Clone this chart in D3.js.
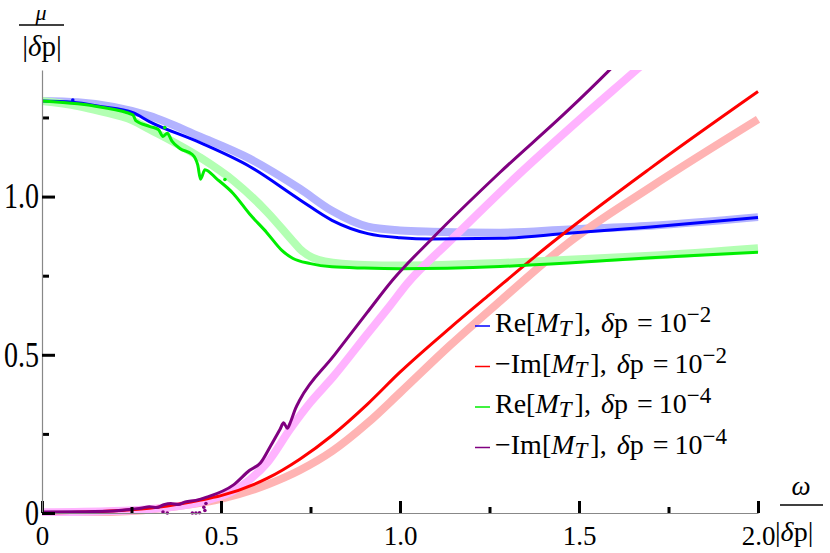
<!DOCTYPE html>
<html>
<head>
<meta charset="utf-8">
<script src="https://cdn.jsdelivr.net/npm/d3@7"></script>
<style>
body { margin: 0; background: #fff; }
svg text { font-family: 'Liberation Serif', 'Times New Roman', Times, 'DejaVu Serif', serif; }
</style>
</head>
<body>
<div id="theGraph"></div>
<script>
// axis ticks
const xMajorTicks = [0, 0.5, 1.0, 1.5, 2.0];
const xTickLabels = ["0", "0.5", "1.0", "1.5", "2.0"];
const xMinorTicks = [0.25, 0.75, 1.25, 1.75];
const yMajorTicks = [0, 0.5, 1.0];
const yTickLabels = ["0", "0.5", "1.0"];
const yMinorTicks = [0.25, 0.75, 1.25];

// thick light curves (reference), [omega, value]
const reFitA = [[0,1.302],[0.1,1.298],[0.2,1.283],[0.3,1.255],[0.44,1.19],[0.58,1.12],[0.72,1.025],[0.81,0.955],[0.91,0.905],[1.0,0.893],[1.09,0.889],[1.28,0.886],[1.47,0.896],[1.7,0.908],[2.0,0.935]];
const imFitA = [[0,0],[0.1,0.001],[0.25,0.006],[0.4,0.025],[0.5,0.045],[0.63,0.09],[0.72,0.135],[0.81,0.195],[0.91,0.285],[1.0,0.38],[1.14,0.53],[1.284,0.674],[1.466,0.85],[1.7,1.03],[2.0,1.244]];
const reFitB = [[0,1.302],[0.1,1.286],[0.162,1.27],[0.254,1.24],[0.3,1.213],[0.44,1.125],[0.535,1.05],[0.63,0.95],[0.7,0.86],[0.72,0.835],[0.79,0.795],[0.9,0.784],[1.0,0.782],[1.28,0.79],[1.47,0.8],[1.7,0.813],[2.0,0.837]];
const imFitB = [[0,0.002],[0.2,0.006],[0.3,0.012],[0.4,0.025],[0.46,0.04],[0.535,0.07],[0.58,0.105],[0.63,0.16],[0.693,0.265],[0.75,0.35],[0.813,0.43],[0.908,0.565],[0.972,0.655],[1.02,0.725],[1.14,0.86],[1.327,1.065],[1.511,1.253],[1.662,1.402],[1.7,1.44]];

// thin numerical curves
const reDpA = [[0,1.302],[0.086,1.298],[0.162,1.285],[0.254,1.265],[0.3,1.237],[0.44,1.171],[0.58,1.095],[0.72,0.99],[0.81,0.925],[0.91,0.883],[1.0,0.87],[1.09,0.866],[1.28,0.868],[1.47,0.884],[1.7,0.904],[2.0,0.934]];
const imDpA = [[0,0],[0.1,0.002],[0.25,0.01],[0.35,0.022],[0.44,0.04],[0.5,0.055],[0.63,0.11],[0.72,0.17],[0.81,0.245],[0.91,0.345],[1.0,0.445],[1.14,0.585],[1.25,0.69],[1.42,0.85],[1.7,1.09],[2.0,1.332]];
const reDpB = [[0,1.302],[0.1,1.293],[0.162,1.283],[0.254,1.258],[0.262,1.24],[0.3,1.222],[0.325,1.212],[0.338,1.19],[0.35,1.2],[0.363,1.175],[0.385,1.152],[0.42,1.133],[0.435,1.1],[0.443,1.055],[0.455,1.085],[0.488,1.056],[0.534,1.01],[0.58,0.945],[0.628,0.886],[0.67,0.83],[0.7,0.805],[0.75,0.788],[0.81,0.778],[0.9,0.774],[1.0,0.772],[1.28,0.779],[1.47,0.79],[1.7,0.807],[2.0,0.824]];
const imDpB = [[0,0.003],[0.1,0.004],[0.2,0.006],[0.25,0.012],[0.28,0.016],[0.3,0.02],[0.32,0.017],[0.34,0.026],[0.36,0.03],[0.38,0.027],[0.4,0.035],[0.43,0.04],[0.46,0.05],[0.535,0.089],[0.58,0.135],[0.61,0.158],[0.64,0.215],[0.665,0.265],[0.675,0.285],[0.685,0.268],[0.695,0.29],[0.708,0.33],[0.72,0.357],[0.813,0.494],[0.908,0.633],[0.98,0.737],[1.092,0.87],[1.279,1.076],[1.466,1.269],[1.587,1.402],[1.62,1.44]];

// stray points off the thin curves
const reDotsA = [[0.086,1.305]];
const reDotsB = [[0.343,1.218],[0.511,1.054]];
const imDotsB = [[0.338,0.003],[0.35,0],[0.42,0],[0.43,0],[0.44,0.001],[0.452,0.018],[0.455,0.008],[0.458,0.03]];

// legend
const legendPrefix = ["Re", "\u2212Im", "Re", "\u2212Im"];
const legendExp = ["\u22122", "\u22122", "\u22124", "\u22124"];
const legendColors = ["#0000ff", "#ff0000", "#00ee00", "#800080"];

const width = 830, height = 553;
const serif = "'Liberation Serif', 'Times New Roman', Times, 'DejaVu Serif', serif";

const svg = d3.select("#theGraph")
            .append("svg")
                .attr("width", width)
                .attr("height", height)
                .attr("font-family", serif);

const xScale = d3.scaleLinear().domain([0, 2]).range([42, 758]);
const yScale = d3.scaleLinear().domain([0, 1.4]).range([513, 70]);

svg.append("clipPath")
    .attr("id", "plotClip")
    .append("rect")
        .attr("x", 42)
        .attr("y", 70)
        .attr("width", 718)
        .attr("height", 446);

const line = d3.line()
    .x(d => xScale(d[0]))
    .y(d => yScale(d[1]))
    .curve(d3.curveMonotoneX);

const plot = svg.append("g").attr("clip-path", "url(#plotClip)");

// light thick curves first
const thick = [
    {data: reFitA, color: "#b3b3ff"},
    {data: imFitA, color: "#ffb3b3"},
    {data: reFitB, color: "#b3ffb3"},
    {data: imFitB, color: "#ffb3ff"}
];
thick.forEach(s => {
    plot.append("path")
        .attr("d", line(s.data))
        .attr("fill", "none")
        .attr("stroke", s.color)
        .attr("stroke-width", 8);
});

const thin = [
    {data: reDpA, dots: reDotsA, color: "#0000ff"},
    {data: imDpA, dots: [], color: "#ff0000"},
    {data: reDpB, dots: reDotsB, color: "#00ee00"},
    {data: imDpB, dots: imDotsB, color: "#800080"}
];
thin.forEach(s => {
    plot.append("path")
        .attr("d", line(s.data))
        .attr("fill", "none")
        .attr("stroke", s.color)
        .attr("stroke-width", 3);
    plot.selectAll(null)
        .data(s.dots)
        .enter()
        .append("circle")
            .attr("cx", d => xScale(d[0]))
            .attr("cy", d => yScale(d[1]))
            .attr("r", 1.8)
            .attr("fill", s.color);
});

// axes, Mathematica style: gray axis line, black inward ticks
function styleAxis(g, keepDomain) {
    g.attr("font-family", serif).attr("font-size", null);
    if (keepDomain) g.select(".domain").attr("stroke", "#888").attr("stroke-width", 1.2);
    else g.select(".domain").remove();
    g.selectAll(".tick line").attr("stroke", "#000").attr("stroke-width", 3);
    g.selectAll(".tick text").attr("fill", "#000");
}

svg.append("g")
    .attr("transform", "translate(0,513)")
    .call(d3.axisBottom(xScale).tickValues(xMinorTicks).tickSizeInner(-6).tickSizeOuter(0).tickFormat(""))
    .call(g => styleAxis(g, false));
svg.append("g")
    .attr("transform", "translate(0,513)")
    .call(d3.axisBottom(xScale).tickValues(xMajorTicks).tickSizeInner(-12).tickSizeOuter(0)
        .tickPadding(13).tickFormat((d, i) => xTickLabels[i]))
    .call(g => styleAxis(g, true))
    .selectAll(".tick text")
        .attr("font-size", 27);

svg.append("g")
    .attr("transform", "translate(42,0)")
    .call(d3.axisLeft(yScale).tickValues(yMinorTicks).tickSizeInner(-7).tickSizeOuter(0).tickFormat(""))
    .call(g => styleAxis(g, false));
svg.append("g")
    .attr("transform", "translate(42,0)")
    .call(d3.axisLeft(yScale).tickValues(yMajorTicks).tickSizeInner(-13).tickSizeOuter(0)
        .tickPadding(3).tickFormat((d, i) => yTickLabels[i]))
    .call(g => styleAxis(g, true))
    .selectAll(".tick text")
        .attr("font-size", 28)
        .attr("transform", "scale(1,1.25)");

// axis titles as fractions
svg.append("text")
    .attr("x", 41).attr("y", 19.5)
    .attr("text-anchor", "middle")
    .attr("font-size", 22)
    .style("font-style", "italic")
    .text("\u03bc");
svg.append("line")
    .attr("x1", 19).attr("x2", 64).attr("y1", 25).attr("y2", 25)
    .attr("stroke", "#000").attr("stroke-width", 1.3);
const yDen = svg.append("text")
    .attr("x", 42).attr("y", 56)
    .attr("text-anchor", "middle")
    .attr("font-size", 29);
yDen.append("tspan").text("|");
yDen.append("tspan").style("font-style", "italic").text("\u03b4");
yDen.append("tspan").text("p|");

svg.append("text")
    .attr("x", 801).attr("y", 495)
    .attr("text-anchor", "middle")
    .attr("font-size", 27)
    .style("font-style", "italic")
    .text("\u03c9");
svg.append("line")
    .attr("x1", 780).attr("x2", 823).attr("y1", 505).attr("y2", 505)
    .attr("stroke", "#000").attr("stroke-width", 1.3);
const xDen = svg.append("text")
    .attr("x", 775).attr("y", 541)
    .attr("font-size", 28);
xDen.append("tspan").text("|");
xDen.append("tspan").style("font-style", "italic").text("\u03b4");
xDen.append("tspan").text("p|");

// legend
legendPrefix.forEach((p, i) => {
    const y = 332 + i * 40.5;
    svg.append("line")
        .attr("x1", 475).attr("x2", 490)
        .attr("y1", y - 6).attr("y2", y - 6)
        .attr("stroke", legendColors[i])
        .attr("stroke-width", 1.5);
    const t = svg.append("text")
        .attr("x", 495).attr("y", y)
        .attr("font-size", 28);
    t.append("tspan").text(p + "[");
    t.append("tspan").style("font-style", "italic").text("M");
    t.append("tspan").style("font-style", "italic").attr("font-size", 23).attr("dy", 4).text("T");
    t.append("tspan").attr("dy", -4).attr("dx", 3).text("],");
    t.append("tspan").style("font-style", "italic").attr("dx", 10).text("\u03b4");
    t.append("tspan").text("p");
    t.append("tspan").attr("dx", 9).text("=");
    t.append("tspan").attr("dx", 6).text("10");
    t.append("tspan").attr("font-size", 23).attr("dy", -10).text(legendExp[i]);
});
</script>
</body>
</html>
